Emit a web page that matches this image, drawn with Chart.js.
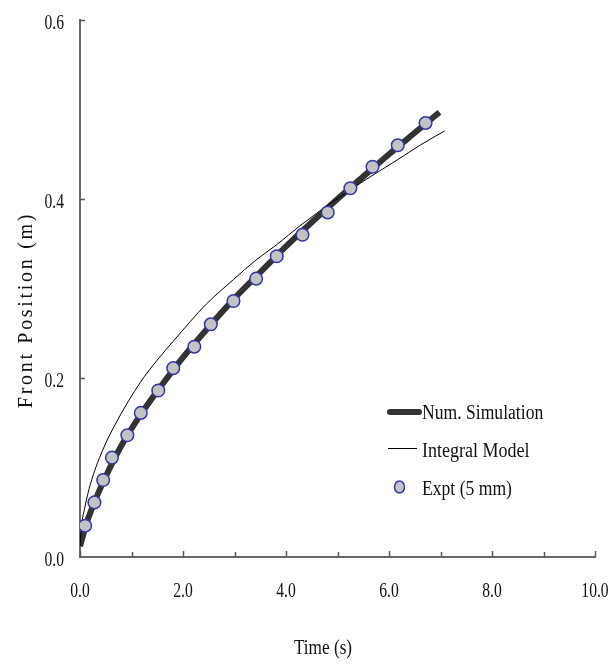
<!DOCTYPE html>
<html>
<head>
<meta charset="utf-8">
<script src="https://cdn.jsdelivr.net/npm/chart.js@4/dist/chart.umd.min.js"></script>
<style>
  html, body { margin: 0; padding: 0; background: #ffffff; }
  #wrap { width: 608px; height: 666px; position: relative; }
</style>
</head>
<body>
<div id="wrap"><canvas id="c" width="608" height="666"></canvas></div>
<script>
// ---- data ----
const expTime = [0.10, 0.28, 0.45, 0.62, 0.92, 1.18, 1.52, 1.81, 2.22, 2.54, 2.98, 3.42, 3.82, 4.32, 4.81, 5.25, 5.68, 6.17, 6.71];
const expPos  = [0.035, 0.061, 0.086, 0.111, 0.136, 0.161, 0.186, 0.211, 0.235, 0.260, 0.286, 0.311, 0.336, 0.360, 0.385, 0.412, 0.436, 0.460, 0.485];

const simTime = [0, 0.05, 0.1, 0.3, 0.5, 0.8, 1.2, 1.6, 2.0, 2.5, 3.0, 3.5, 4.0, 4.5, 5.0, 5.5, 6.0, 6.5, 6.98];
const simPos  = [0.012, 0.022, 0.033, 0.064, 0.090, 0.124, 0.161, 0.193, 0.223, 0.257, 0.289, 0.318, 0.347, 0.374, 0.400, 0.425, 0.450, 0.474, 0.497];

const intTime = [0, 0.02, 0.1, 0.2, 0.43, 0.72, 1.17, 1.5, 1.81, 2.14, 2.46, 2.98, 3.4, 3.82, 4.27, 4.91, 5.56, 6.17, 6.6, 7.08];
const intPos  = [0.012, 0.030, 0.057, 0.081, 0.118, 0.152, 0.195, 0.220, 0.241, 0.263, 0.283, 0.310, 0.331, 0.349, 0.370, 0.397, 0.422, 0.444, 0.460, 0.476];

const xTickValues = [0, 2, 4, 6, 8, 10];
const xTickLabels = ['0.0', '2.0', '4.0', '6.0', '8.0', '10.0'];
const xMinorTicks = [1, 3, 5, 7, 9];
const yTickValues = [0, 0.2, 0.4, 0.6];
const yTickLabels = ['0.0', '0.2', '0.4', '0.6'];

const seriesNames = ['Expt (5 mm)', 'Integral Model', 'Num. Simulation'];
const xTitle = 'Time (s)';
const yTitle = 'Front Position (m)';

// ---- build ----
const toXY = (xs, ys) => xs.map((x, i) => ({ x: x, y: ys[i] }));
const SERIF = '"Liberation Serif", "Times New Roman", serif';

function drawText(ctx, str, x, y, size, sx, align) {
  ctx.save();
  ctx.translate(x, y);
  ctx.scale(sx, 1);
  ctx.font = size + 'px ' + SERIF;
  ctx.textAlign = align;
  ctx.textBaseline = 'alphabetic';
  ctx.fillStyle = '#111111';
  ctx.fillText(str, 0, 0);
  ctx.restore();
}

const decor = {
  id: 'decor',
  afterDraw(chart) {
    const ctx = chart.ctx;
    const xs = chart.scales.x, ys = chart.scales.y;
    const a = chart.chartArea;
    ctx.save();
    ctx.strokeStyle = '#5a5a5a';
    ctx.lineWidth = 1.5;
    // x ticks (inward)
    xTickValues.forEach(v => {
      const px = Math.round(xs.getPixelForValue(v)) + 0.5;
      ctx.beginPath(); ctx.moveTo(px, a.bottom); ctx.lineTo(px, a.bottom - 6); ctx.stroke();
    });
    xMinorTicks.forEach(v => {
      const px = Math.round(xs.getPixelForValue(v)) + 0.5;
      ctx.beginPath(); ctx.moveTo(px, a.bottom); ctx.lineTo(px, a.bottom - 5); ctx.stroke();
    });
    // y ticks (inward)
    yTickValues.forEach(v => {
      if (v === 0) return;
      const py = Math.round(ys.getPixelForValue(v)) + 0.5;
      ctx.beginPath(); ctx.moveTo(a.left, py); ctx.lineTo(a.left + 5, py); ctx.stroke();
    });
    ctx.restore();

    // tick labels
    xTickValues.forEach((v, i) => {
      drawText(ctx, xTickLabels[i], xs.getPixelForValue(v), 597, 20, 0.78, 'center');
    });
    yTickValues.forEach((v, i) => {
      drawText(ctx, yTickLabels[i], 64, ys.getPixelForValue(v) + 8.5, 20, 0.78, 'right');
    });

    // axis titles
    drawText(ctx, xTitle, 323, 654, 21, 0.82, 'center');
    ctx.save();
    ctx.translate(32, 310);
    ctx.rotate(-Math.PI / 2);
    ctx.font = '20px ' + SERIF;
    ctx.letterSpacing = '2.7px';
    ctx.textAlign = 'center';
    ctx.textBaseline = 'alphabetic';
    ctx.fillStyle = '#111111';
    ctx.fillText(yTitle, 0, 0);
    ctx.restore();

    // legend
    const dsSim = chart.data.datasets[2], dsInt = chart.data.datasets[1], dsExp = chart.data.datasets[0];
    ctx.save();
    ctx.strokeStyle = dsSim.borderColor; ctx.lineWidth = dsSim.borderWidth; ctx.lineCap = 'round';
    ctx.beginPath(); ctx.moveTo(390, 412); ctx.lineTo(419, 412); ctx.stroke();
    ctx.strokeStyle = dsInt.borderColor; ctx.lineWidth = dsInt.borderWidth; ctx.lineCap = 'butt';
    ctx.beginPath(); ctx.moveTo(388, 448.5); ctx.lineTo(417, 448.5); ctx.stroke();
    ctx.fillStyle = dsExp.backgroundColor; ctx.strokeStyle = dsExp.borderColor; ctx.lineWidth = dsExp.borderWidth;
    ctx.beginPath(); ctx.ellipse(399.5, 487, 5, 6, 0, 0, Math.PI * 2); ctx.fill(); ctx.stroke();
    ctx.restore();
    drawText(ctx, dsSim.label, 422, 418.5, 20, 0.88, 'left');
    drawText(ctx, dsInt.label, 422, 456.5, 20, 0.9, 'left');
    drawText(ctx, dsExp.label, 422, 495, 20, 0.88, 'left');
  }
};

new Chart(document.getElementById('c'), {
  type: 'scatter',
  data: {
    datasets: [
      {
        label: seriesNames[0],
        data: toXY(expTime, expPos),
        showLine: false,
        pointRadius: 6.3,
        pointBackgroundColor: '#c3c3c3',
        backgroundColor: '#c3c3c3',
        pointBorderColor: '#3138a0',
        borderColor: '#3138a0',
        pointBorderWidth: 1.5,
        borderWidth: 1.5
      },
      {
        label: seriesNames[1],
        data: toXY(intTime, intPos),
        showLine: true,
        borderColor: '#000000',
        borderWidth: 1,
        pointRadius: 0,
        cubicInterpolationMode: 'monotone'
      },
      {
        label: seriesNames[2],
        data: toXY(simTime, simPos),
        showLine: true,
        borderColor: '#333333',
        borderWidth: 6,
        pointRadius: 0,
        cubicInterpolationMode: 'monotone'
      }
    ]
  },
  options: {
    responsive: false,
    animation: false,
    devicePixelRatio: 1,
    layout: { padding: { left: 80, right: 13, top: 20, bottom: 109 } },
    plugins: { legend: { display: false }, tooltip: { enabled: false } },
    scales: {
      x: {
        type: 'linear', min: 0, max: 10,
        grid: { display: false, drawTicks: false },
        ticks: { display: false },
        border: { display: true, color: '#6a6a6a', width: 2 },
        afterFit: s => { s.height = 0; }
      },
      y: {
        type: 'linear', min: 0, max: 0.6,
        grid: { display: false, drawTicks: false },
        ticks: { display: false },
        border: { display: true, color: '#6a6a6a', width: 2 },
        afterFit: s => { s.width = 0; }
      }
    }
  },
  plugins: [decor]
});
</script>
</body>
</html>
